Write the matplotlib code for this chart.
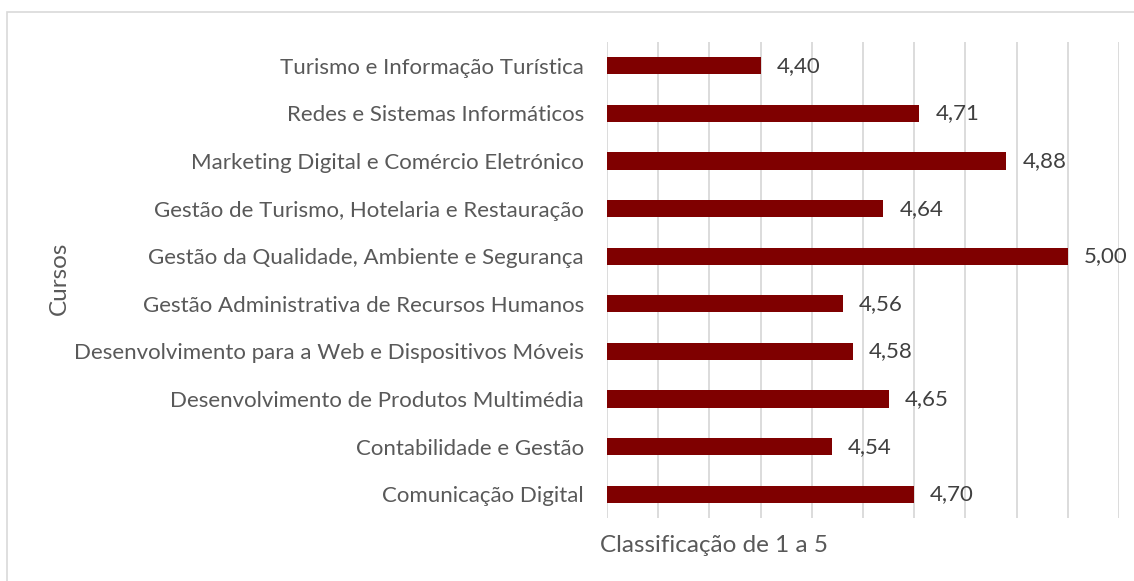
import matplotlib.pyplot as plt
from matplotlib.patches import Rectangle

plt.rcParams['font.family'] = ['Lato', 'DejaVu Sans']

cursos = ['Comunicação Digital',
          'Contabilidade e Gestão',
          'Desenvolvimento de Produtos Multimédia',
          'Desenvolvimento para a Web e Dispositivos Móveis',
          'Gestão Administrativa de Recursos Humanos',
          'Gestão da Qualidade, Ambiente e Segurança',
          'Gestão de Turismo, Hotelaria e Restauração',
          'Marketing Digital e Comércio Eletrónico',
          'Redes e Sistemas Informáticos',
          'Turismo e Informação Turística']
notas = [4.70, 4.54, 4.65, 4.58, 4.56, 5.00, 4.64, 4.88, 4.71, 4.40]

W, H = 1134, 581
fig = plt.figure(figsize=(W / 100, H / 100), dpi=100)
ax = fig.add_axes([607 / W, 1 - 518 / H, (1119 - 607) / W, (518 - 42) / H])

# light frame of the chart area (cut off at right and bottom)
fig.patches.append(Rectangle((7 / W, -0.1), 1.2, 1 - 12 / H + 0.1,
                             transform=fig.transFigure, fill=False,
                             ec='#d9d9d9', lw=1.2))

y = range(len(cursos))
ax.barh(y, [v - 4.1 for v in notas], left=4.1, height=0.36,
        color='#7f0000', zorder=3)
for yi, v in zip(y, notas):
    ax.annotate(f'{v:.2f}'.replace('.', ','), (v, yi), xytext=(11.5, 0),
                textcoords='offset points', va='center', ha='left',
                fontsize=16, color='#404040')

ax.set_xlim(4.1, 5.1)
ax.set_ylim(-0.5, len(cursos) - 0.5)
ax.set_xticks([4.1 + 0.1 * i for i in range(11)])
ax.set_xticklabels([])
ax.grid(axis='x', color='#d9d9d9', lw=1.3, zorder=0)
ax.tick_params(length=0)
ax.set_yticks(list(y))
ax.set_yticklabels(cursos, fontsize=16, color='#595959')
ax.tick_params(axis='y', pad=16.5)
for s in ax.spines.values():
    s.set_visible(False)

fig.text(600 / W, 1 - 545 / H, 'Classificação de 1 a 5', fontsize=17.5,
         color='#595959', ha='left', va='center')
fig.text(59 / W, 1 - 278 / H, 'Cursos', fontsize=17.5, color='#595959',
         rotation=90, ha='center', va='center')

plt.savefig('out.png', dpi=100)
